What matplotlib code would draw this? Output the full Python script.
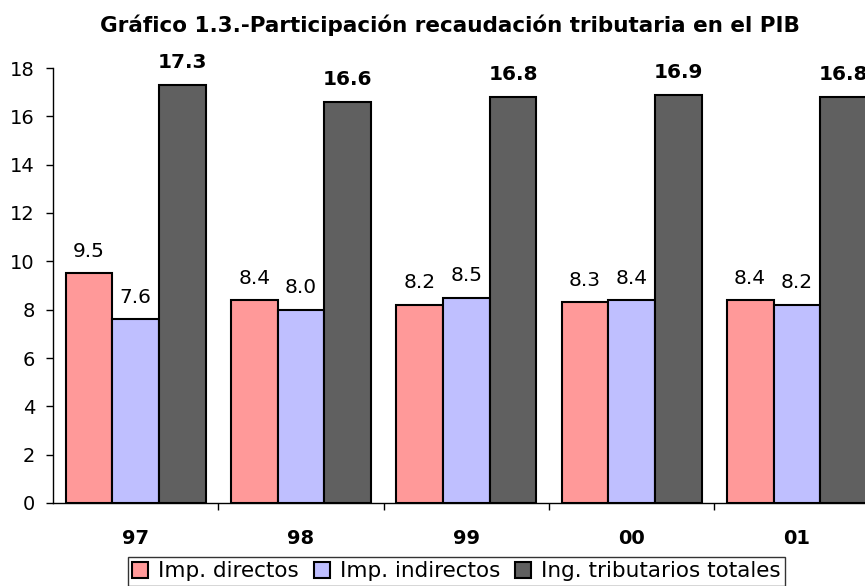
import matplotlib.pyplot as plt
import numpy as np

# datos
years = ["97", "98", "99", "00", "01"]
directos = [9.5, 8.4, 8.2, 8.3, 8.4]
indirectos = [7.6, 8.0, 8.5, 8.4, 8.2]
totales = [17.3, 16.6, 16.8, 16.9, 16.8]

series = ["Imp. directos", "Imp. indirectos", "Ing. tributarios totales"]
colors = ["#FF9999", "#BFBFFF", "#606060"]

plt.rcParams["font.family"] = "DejaVu Sans"

fig = plt.figure(figsize=(8.65, 5.86), dpi=100)
ax = fig.add_axes([53 / 865, 83 / 586, 826.5 / 865, 435 / 586])

x = np.arange(len(years))
w = 0.2825
for i, (vals, col, name) in enumerate(zip([directos, indirectos, totales], colors, series)):
    ax.bar(x + (i - 1) * w, vals, w, color=col, edgecolor="black",
           linewidth=1.5, label=name)
    for xi, v in zip(x + (i - 1) * w, vals):
        ax.annotate(f"{v:.1f}", (xi, v), xytext=(0, 9), textcoords="offset points",
                    ha="center", va="bottom", fontsize=14.5,
                    fontweight="bold" if i == 2 else "normal")

ax.set_xlim(-0.5, len(years) - 0.5)
ax.set_ylim(0, 18)
ax.set_yticks(range(0, 19, 2))
ax.tick_params(axis="y", labelsize=14, length=5, width=1, direction="out", pad=8)
ax.set_xticks(x)
ax.set_xticklabels(years, fontsize=14, fontweight="bold")
ax.tick_params(axis="x", length=0, pad=19)
ax.set_xticks(np.arange(0.5, len(years) - 0.5, 1), minor=True)
ax.tick_params(axis="x", which="minor", length=5, width=1, direction="out")
ax.spines["top"].set_visible(False)
ax.spines["right"].set_visible(False)
ax.spines["left"].set_linewidth(1)
ax.spines["bottom"].set_linewidth(1)

fig.suptitle("Gráfico 1.3.-Participación recaudación tributaria en el PIB",
             x=450 / 865, y=1 - 25 / 586, va="center", fontsize=15.5, fontweight="bold")

leg = fig.legend(loc="upper center", bbox_to_anchor=(456.5 / 865, 1 - 557 / 586), ncol=3,
                 fontsize=15.5, frameon=True, fancybox=False, edgecolor="black",
                 handlelength=0.75, handleheight=0.75, handletextpad=0.45,
                 columnspacing=0.7, borderpad=0.2, borderaxespad=0)
leg.get_frame().set_linewidth(1)

fig.savefig("out.png", dpi=100)
